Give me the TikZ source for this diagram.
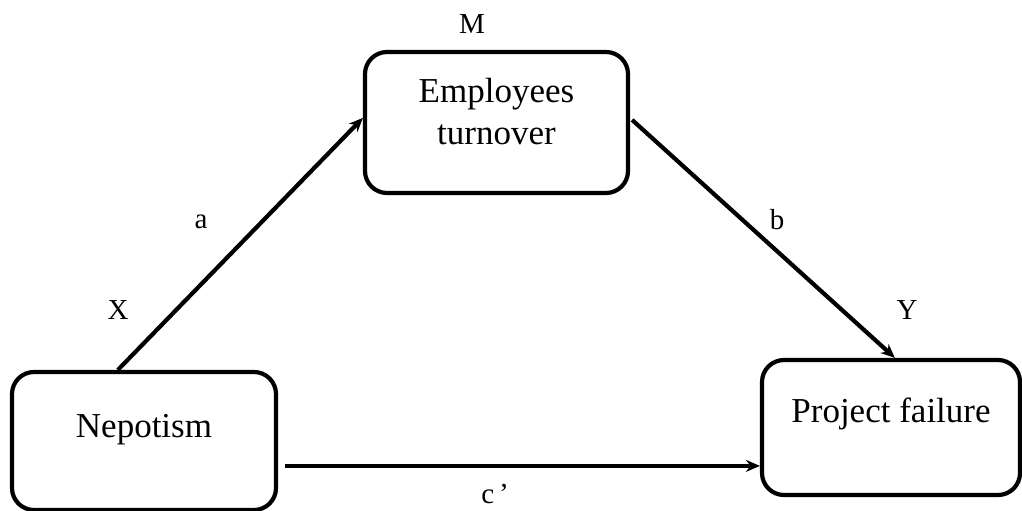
\documentclass[tikz,border=0pt]{standalone}
\usepackage{fontspec}
\setmainfont{Liberation Serif}
\usetikzlibrary{arrows.meta,calc}
\begin{document}
\begin{tikzpicture}[x=1pt,y=-1pt,
  box/.style={draw, line width=4.2pt, rounded corners=22pt, inner sep=0pt},
  link/.style={line width=4.2pt, -{Stealth[length=14pt,width=12pt]}},
  boxtext/.style={font=\fontsize{35}{42}\selectfont, align=center, inner sep=0pt},
  tag/.style={font=\fontsize{29}{34}\selectfont, inner sep=0pt}]
\useasboundingbox (0,0) rectangle (1022,511);

% the three variables of the mediation model
\node[box, minimum width=264pt, minimum height=138pt,
      label={[boxtext, yshift=11pt, name=neptext]center:Nepotism}] (nep) at (144,441) {};
\node[box, minimum width=263pt, minimum height=141pt,
      label={[boxtext, yshift=11pt, name=emptext]center:Employees\\turnover}] (emp) at (496.5,122.5) {};
\node[box, minimum width=258pt, minimum height=135pt,
      label={[boxtext, yshift=14pt, name=pftext]center:Project failure}] (pf) at (891,427.5) {};

% role and path labels
\node[tag] (mlab) at (472,24) {M};
\node[tag] (xlab) at (118,310) {X};
\node[tag] (ylab) at (907,310) {Y};
\node[tag] (alab) at (201,222) {a};
\node[tag] (blab) at (777,220) {b};
\node[tag] (clab) at (495,494) {c\,’};

% paths a, b and the direct path c'
\draw[link] ($(nep.north west)+(108,0)$) -- ($(emp.north west)+(0,68)$);
\draw[link] ($(emp.north east)+(2,70)$) -- ($(pf.north west)+(135,0)$);
\draw[link] ($(nep.north east)+(7,96)$) -- ($(pf.north west)+(0,108)$);
\end{tikzpicture}
\end{document}
